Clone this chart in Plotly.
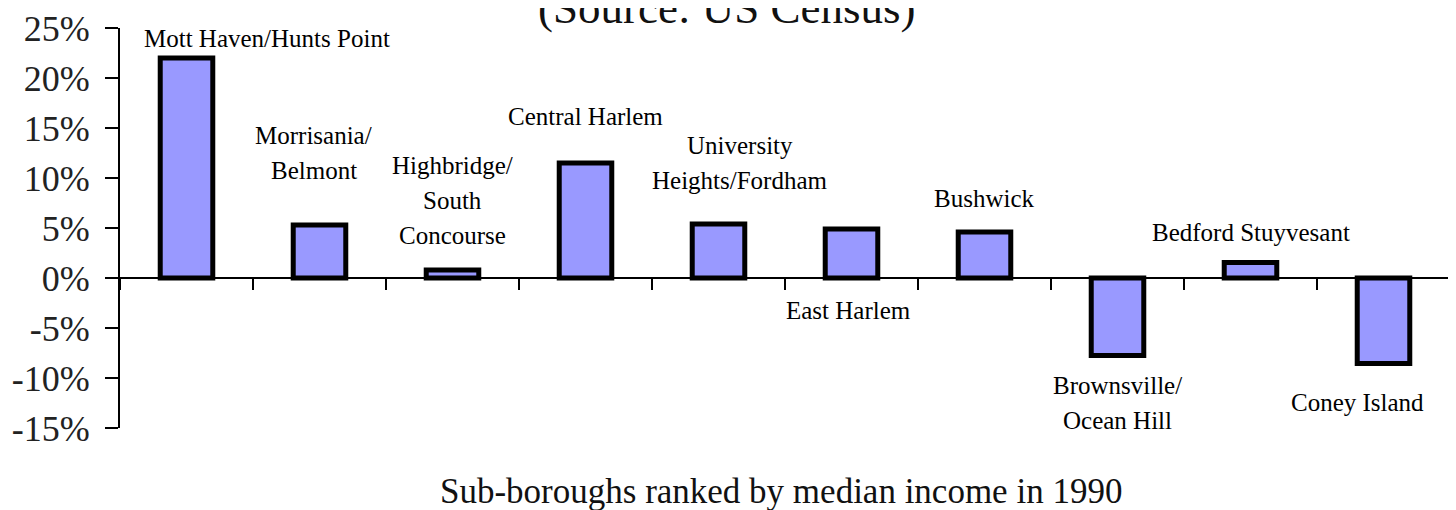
import plotly.graph_objects as go

categories = ["Mott Haven/Hunts Point", "Morrisania/Belmont", "Highbridge/South Concourse",
              "Central Harlem", "University Heights/Fordham", "East Harlem", "Bushwick",
              "Brownsville/Ocean Hill", "Bedford Stuyvesant", "Coney Island"]
values = [22.0, 5.3, 0.8, 11.5, 5.4, 4.9, 4.6, -7.75, 1.55, -8.55]
label_text = ["Mott Haven/Hunts Point", "Morrisania/\nBelmont", "Highbridge/\nSouth\nConcourse",
              "Central Harlem", "University\nHeights/Fordham", "East Harlem", "Bushwick",
              "Brownsville/\nOcean Hill", "Bedford Stuyvesant", "Coney Island"]
label_y = [24.0, 12.55, 7.8, 16.2, 11.55, -3.2, 8.0, -12.45, 4.6, -12.4]
label_dx = [80, -6, 0, 0, 21, -3, 0, 0, 0, -26]
y_ticks = [-15, -10, -5, 0, 5, 10, 15, 20, 25]
y_ticktext = [f"{v}%" for v in y_ticks]

SERIF = "Liberation Serif, Times New Roman, serif"

fig = go.Figure()
fig.add_trace(go.Bar(
    x=categories, y=values, width=0.395,
    marker=dict(color="#9999FF", line=dict(color="black", width=5)),
    showlegend=False, hoverinfo="skip",
))

annotations = []
LINE_H = 35
for cat, txt, ly, dx in zip(categories, label_text, label_y, label_dx):
    lines = txt.split("\n")
    n = len(lines)
    for j, line in enumerate(lines):
        annotations.append(dict(
            x=cat, y=ly, xref="x", yref="y", text=line, showarrow=False,
            xanchor="center", yanchor="middle", xshift=dx,
            yshift=-(j - (n - 1) / 2) * LINE_H,
            font=dict(family=SERIF, size=25, color="black"),
        ))

annotations.append(dict(
    x=0.5, y=-0.16, xref="paper", yref="paper",
    text="Sub-boroughs ranked by median income in 1990", showarrow=False,
    xanchor="center", yanchor="middle", xshift=-4,
    font=dict(family=SERIF, size=35, color="#111"),
))
annotations.append(dict(
    x=0.5, y=1.05, xref="paper", yref="paper",
    text="(Source: US Census)", showarrow=False,
    xanchor="center", yanchor="middle", xshift=-59,
    font=dict(family=SERIF, size=45, color="#111"),
))

fig.update_layout(
    width=1448, height=502,
    margin=dict(l=112, r=6, t=20, b=82),
    paper_bgcolor="white", plot_bgcolor="white",
    annotations=annotations,
    xaxis=dict(
        type="category", anchor="free", position=0.375, automargin=False,
        showline=True, linecolor="black", linewidth=2,
        ticks="outside", tickson="boundaries", ticklen=11, tickwidth=2, tickcolor="black",
        showticklabels=False, showgrid=False, zeroline=False,
    ),
    yaxis=dict(
        range=[-15, 25], tickvals=y_ticks, ticktext=y_ticktext, automargin=False,
        showline=True, linecolor="black", linewidth=2,
        ticks="outside", ticklen=13, tickwidth=2, tickcolor="black",
        ticklabelstandoff=8,
        tickfont=dict(family=SERIF, size=36, color="#222"),
        showgrid=False, zeroline=False,
    ),
)

fig.write_html("out.html")
